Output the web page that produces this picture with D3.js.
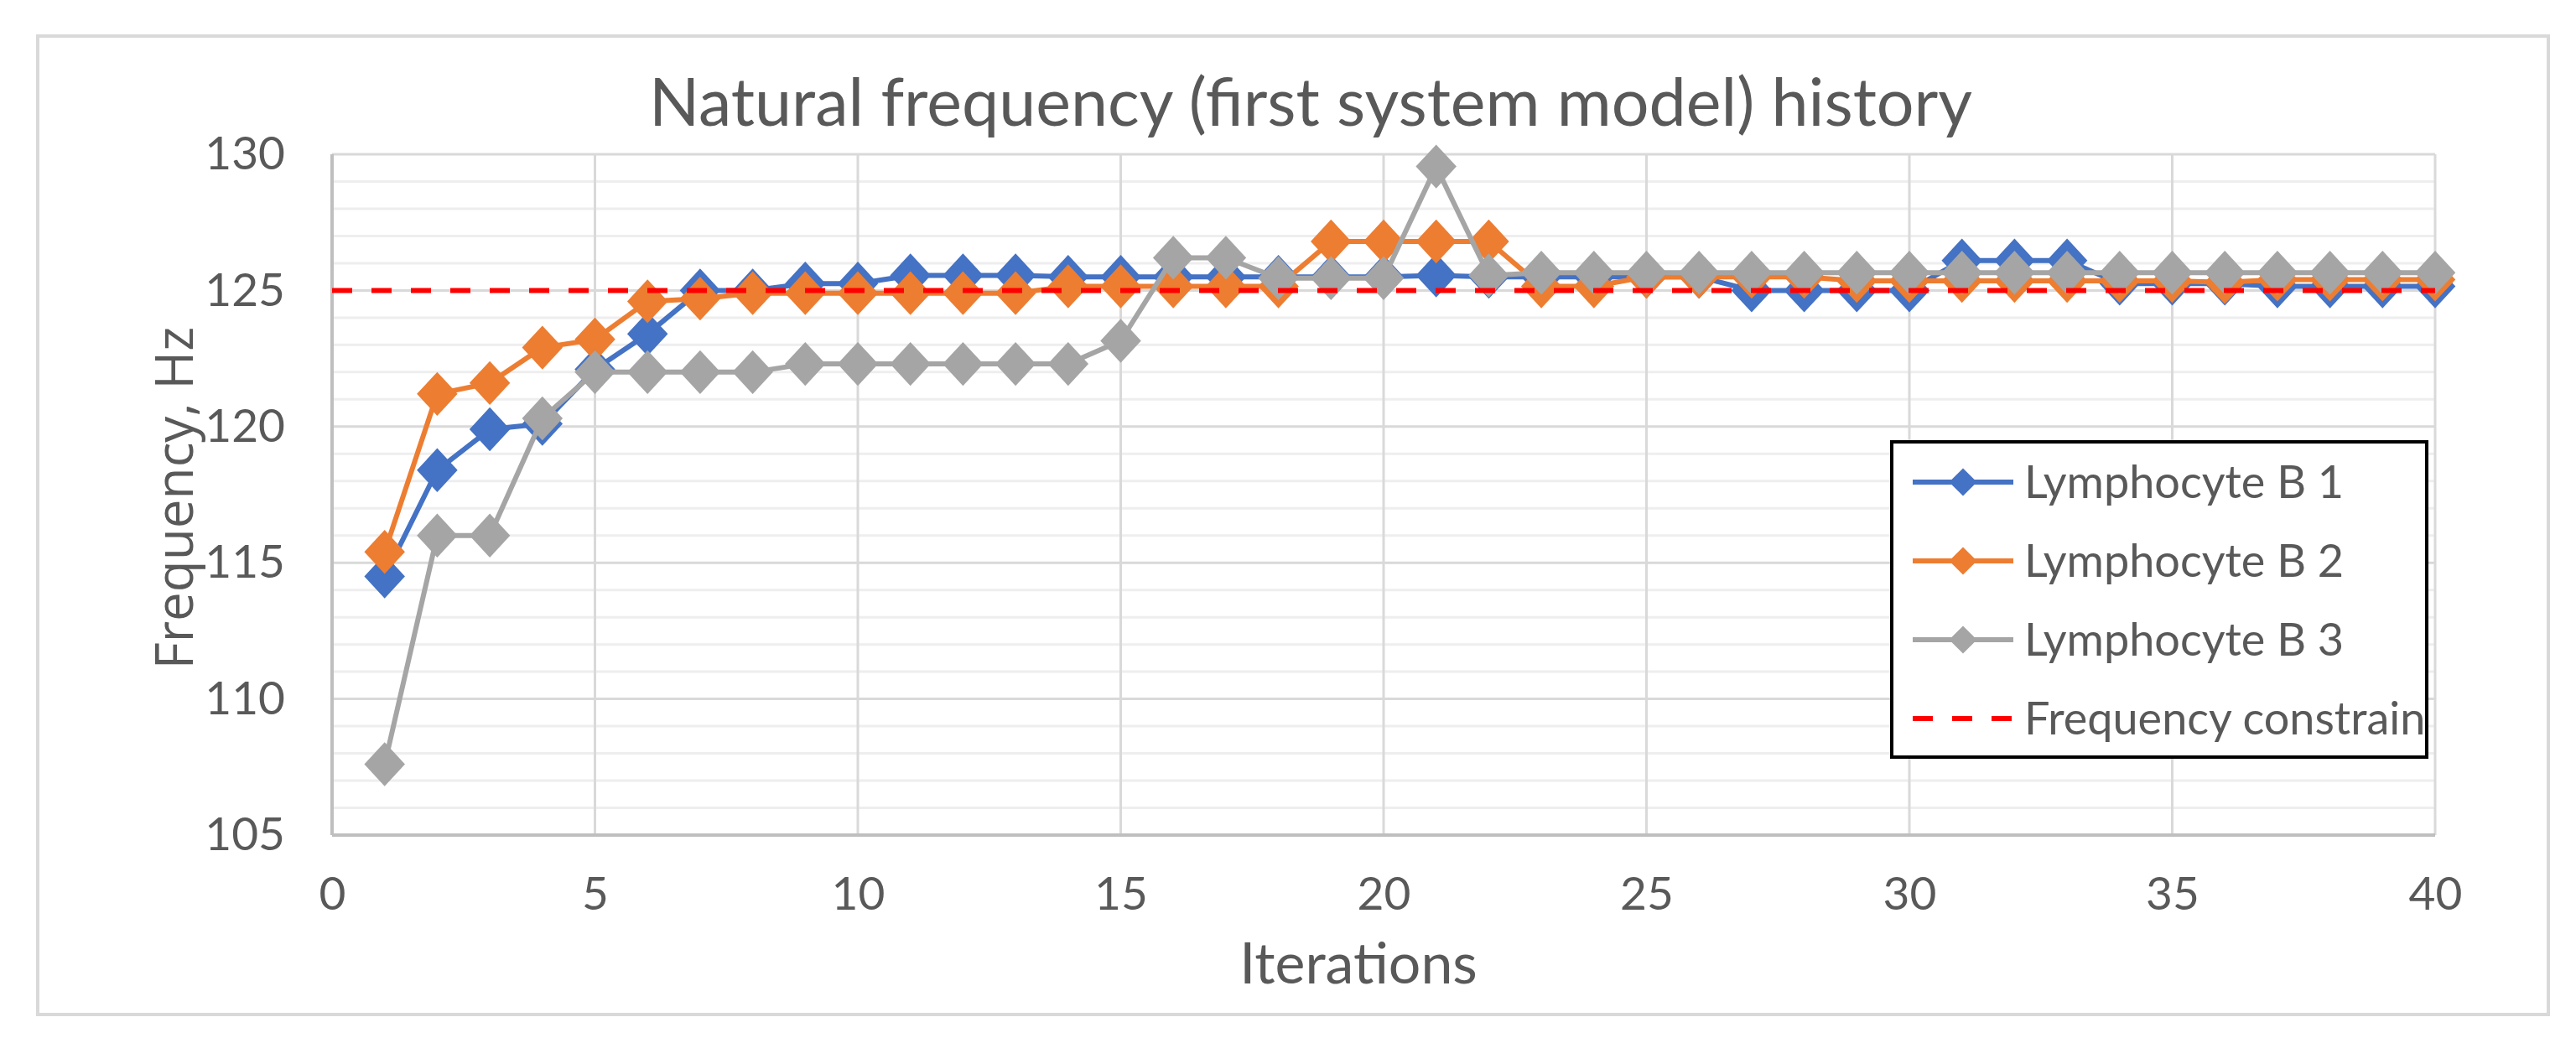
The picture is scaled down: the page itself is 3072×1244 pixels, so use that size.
<!DOCTYPE html>
<html>
<head>
<meta charset="utf-8">
<script src="https://cdn.jsdelivr.net/npm/d3@7"></script>
<style>
  html, body { margin: 0; padding: 0; background: #fff; }
  svg { display: block; font-family: Lato, 'Open Sans', sans-serif; }
</style>
</head>
<body>
<svg id="chart" width="3072" height="1244"></svg>
<script>
'use strict';

let iterations = d3.range(1, 41);
let seriesNames = ['Lymphocyte B 1', 'Lymphocyte B 2', 'Lymphocyte B 3'];
let constraintName = 'Frequency constrain';
let constraintValue = 125;

let b1 = [114.5, 118.4, 119.9, 120.1, 122.1, 123.4, 125.0, 125.0, 125.25, 125.25,
  125.55, 125.55, 125.55, 125.5, 125.5, 125.5, 125.5, 125.5, 125.5, 125.5,
  125.55, 125.5, 125.5, 125.5, 125.5, 125.5, 125.0, 125.0, 125.0, 125.0,
  126.1, 126.1, 126.1, 125.25, 125.25, 125.25, 125.15, 125.15, 125.15, 125.15];
let b2 = [115.4, 121.2, 121.6, 122.9, 123.2, 124.6, 124.7, 124.9, 124.9, 124.9,
  124.9, 124.9, 124.9, 125.15, 125.15, 125.15, 125.15, 125.15, 126.8, 126.8,
  126.8, 126.8, 125.15, 125.15, 125.5, 125.5, 125.5, 125.5, 125.35, 125.35,
  125.35, 125.35, 125.35, 125.35, 125.35, 125.3, 125.4, 125.4, 125.4, 125.4];
let b3 = [107.6, 116.0, 116.0, 120.3, 122.0, 122.0, 122.0, 122.0, 122.3, 122.3,
  122.3, 122.3, 122.3, 122.3, 123.15, 126.2, 126.2, 125.45, 125.45, 125.45,
  129.55, 125.55, 125.65, 125.65, 125.65, 125.65, 125.65, 125.65, 125.65, 125.65,
  125.65, 125.65, 125.65, 125.65, 125.65, 125.65, 125.65, 125.65, 125.65, 125.65];

let xTicks = [0, 5, 10, 15, 20, 25, 30, 35, 40];
let yTicks = [105, 110, 115, 120, 125, 130];

let colors = ['#4472c4', '#ed7d31', '#a5a5a5'];
let textColor = '#595959';

let svg = d3.select('#chart');

// outer chart frame
svg.append('rect')
  .attr('x', 45).attr('y', 43)
  .attr('width', 2994).attr('height', 1167)
  .style('fill', '#fff')
  .style('stroke', '#d9d9d9')
  .style('stroke-width', 4);

let plot = {x: 396, y: 184, w: 2508, h: 812};

let x = d3.scaleLinear().domain([0, 40]).range([plot.x, plot.x + plot.w]);
let y = d3.scaleLinear().domain([105, 130]).range([plot.y + plot.h, plot.y]);

// grid
let grid = svg.append('g').classed('grid', true);
grid.selectAll('line.minor')
  .data(d3.range(106, 130).filter(v => v % 5 !== 0))
  .enter().append('line')
  .classed('minor', true)
  .attr('x1', x(0)).attr('x2', x(40))
  .attr('y1', d => y(d)).attr('y2', d => y(d))
  .style('stroke', '#eeeeee')
  .style('stroke-width', 3);
grid.selectAll('line.major')
  .data(yTicks.filter(v => v > 105))
  .enter().append('line')
  .classed('major', true)
  .attr('x1', x(0)).attr('x2', x(40))
  .attr('y1', d => y(d)).attr('y2', d => y(d))
  .style('stroke', '#d9d9d9')
  .style('stroke-width', 3);
grid.selectAll('line.vert')
  .data(xTicks.filter(v => v > 0))
  .enter().append('line')
  .classed('vert', true)
  .attr('x1', d => x(d)).attr('x2', d => x(d))
  .attr('y1', y(130)).attr('y2', y(105))
  .style('stroke', '#d9d9d9')
  .style('stroke-width', 3);

// axis lines
svg.append('line')
  .attr('x1', x(0)).attr('x2', x(0))
  .attr('y1', y(130)).attr('y2', y(105))
  .style('stroke', '#bfbfbf').style('stroke-width', 4);
svg.append('line')
  .attr('x1', x(0)).attr('x2', x(40))
  .attr('y1', y(105)).attr('y2', y(105))
  .style('stroke', '#bfbfbf').style('stroke-width', 4);

let yAxis = svg.append('g')
  .attr('transform', `translate(${x(0)},0)`)
  .call(d3.axisLeft(y).tickValues(yTicks).tickSize(0).tickPadding(56));
let xAxis = svg.append('g')
  .attr('transform', `translate(0,${y(105)})`)
  .call(d3.axisBottom(x).tickValues(xTicks).tickSize(0).tickPadding(50));
[xAxis, yAxis].forEach(a => {
  a.select('.domain').remove();
  a.selectAll('text')
    .style('font-family', 'Lato, sans-serif')
    .style('font-size', '55px')
    .style('fill', textColor);
});

// series
let diamond = d3.symbol().type(d3.symbolDiamond2);
let line = d3.line()
  .x((d, i) => x(iterations[i]))
  .y(d => y(d));

let seriesG = svg.append('g').classed('series', true);
[b1, b2, b3].forEach((values, s) => {
  let g = seriesG.append('g');
  g.append('path')
    .attr('d', line(values))
    .style('fill', 'none')
    .style('stroke', colors[s])
    .style('stroke-width', 6)
    .style('stroke-linejoin', 'round');
  g.selectAll('path.marker')
    .data(values)
    .enter().append('path')
    .classed('marker', true)
    .attr('d', diamond.size(1500)())
    .attr('transform', (d, i) => `translate(${x(iterations[i])},${y(d)}) scale(1,1.08)`)
    .style('fill', colors[s]);
});

// constraint line
svg.append('line')
  .attr('x1', x(0)).attr('x2', x(40))
  .attr('y1', y(constraintValue)).attr('y2', y(constraintValue))
  .style('stroke', '#ff0000')
  .style('stroke-width', 6)
  .style('stroke-dasharray', '24,23');

// title and axis titles
svg.append('text')
  .attr('x', 1563).attr('y', 150)
  .style('text-anchor', 'middle')
  .style('font-size', '79px')
  .style('fill', textColor)
  .text('Natural frequency (first system model) history');
svg.append('text')
  .attr('x', 1620).attr('y', 1173)
  .style('text-anchor', 'middle')
  .style('font-size', '68px')
  .style('fill', textColor)
  .text('Iterations');
svg.append('text')
  .attr('transform', 'translate(230,594) rotate(-90)')
  .style('text-anchor', 'middle')
  .style('font-family', "'Open Sans', sans-serif")
  .style('font-size', '62px')
  .style('fill', textColor)
  .text('Frequency, Hz');

// legend
let legend = svg.append('g').classed('legend', true);
legend.append('rect')
  .attr('x', 2256).attr('y', 527)
  .attr('width', 638).attr('height', 376)
  .style('fill', '#fff')
  .style('stroke', '#000')
  .style('stroke-width', 4);
let legendItems = seriesNames.map((n, i) => ({name: n, color: colors[i], dashed: false}))
  .concat([{name: constraintName, color: '#ff0000', dashed: true}]);
let itemSel = legend.selectAll('g.item')
  .data(legendItems)
  .enter().append('g')
  .classed('item', true)
  .attr('transform', (d, i) => `translate(2281,${575 + i * 94})`);
itemSel.append('line')
  .attr('x1', 0).attr('x2', 120)
  .style('stroke', d => d.color)
  .style('stroke-width', 6)
  .style('stroke-dasharray', d => d.dashed ? '24,23' : null);
itemSel.filter(d => !d.dashed).append('path')
  .attr('d', diamond.size(700)())
  .attr('transform', 'translate(60,0)')
  .style('fill', d => d.color);
itemSel.append('text')
  .attr('x', 133)
  .attr('dy', '0.35em')
  .style('font-size', '54px')
  .style('fill', textColor)
  .text(d => d.name);
</script>
</body>
</html>
